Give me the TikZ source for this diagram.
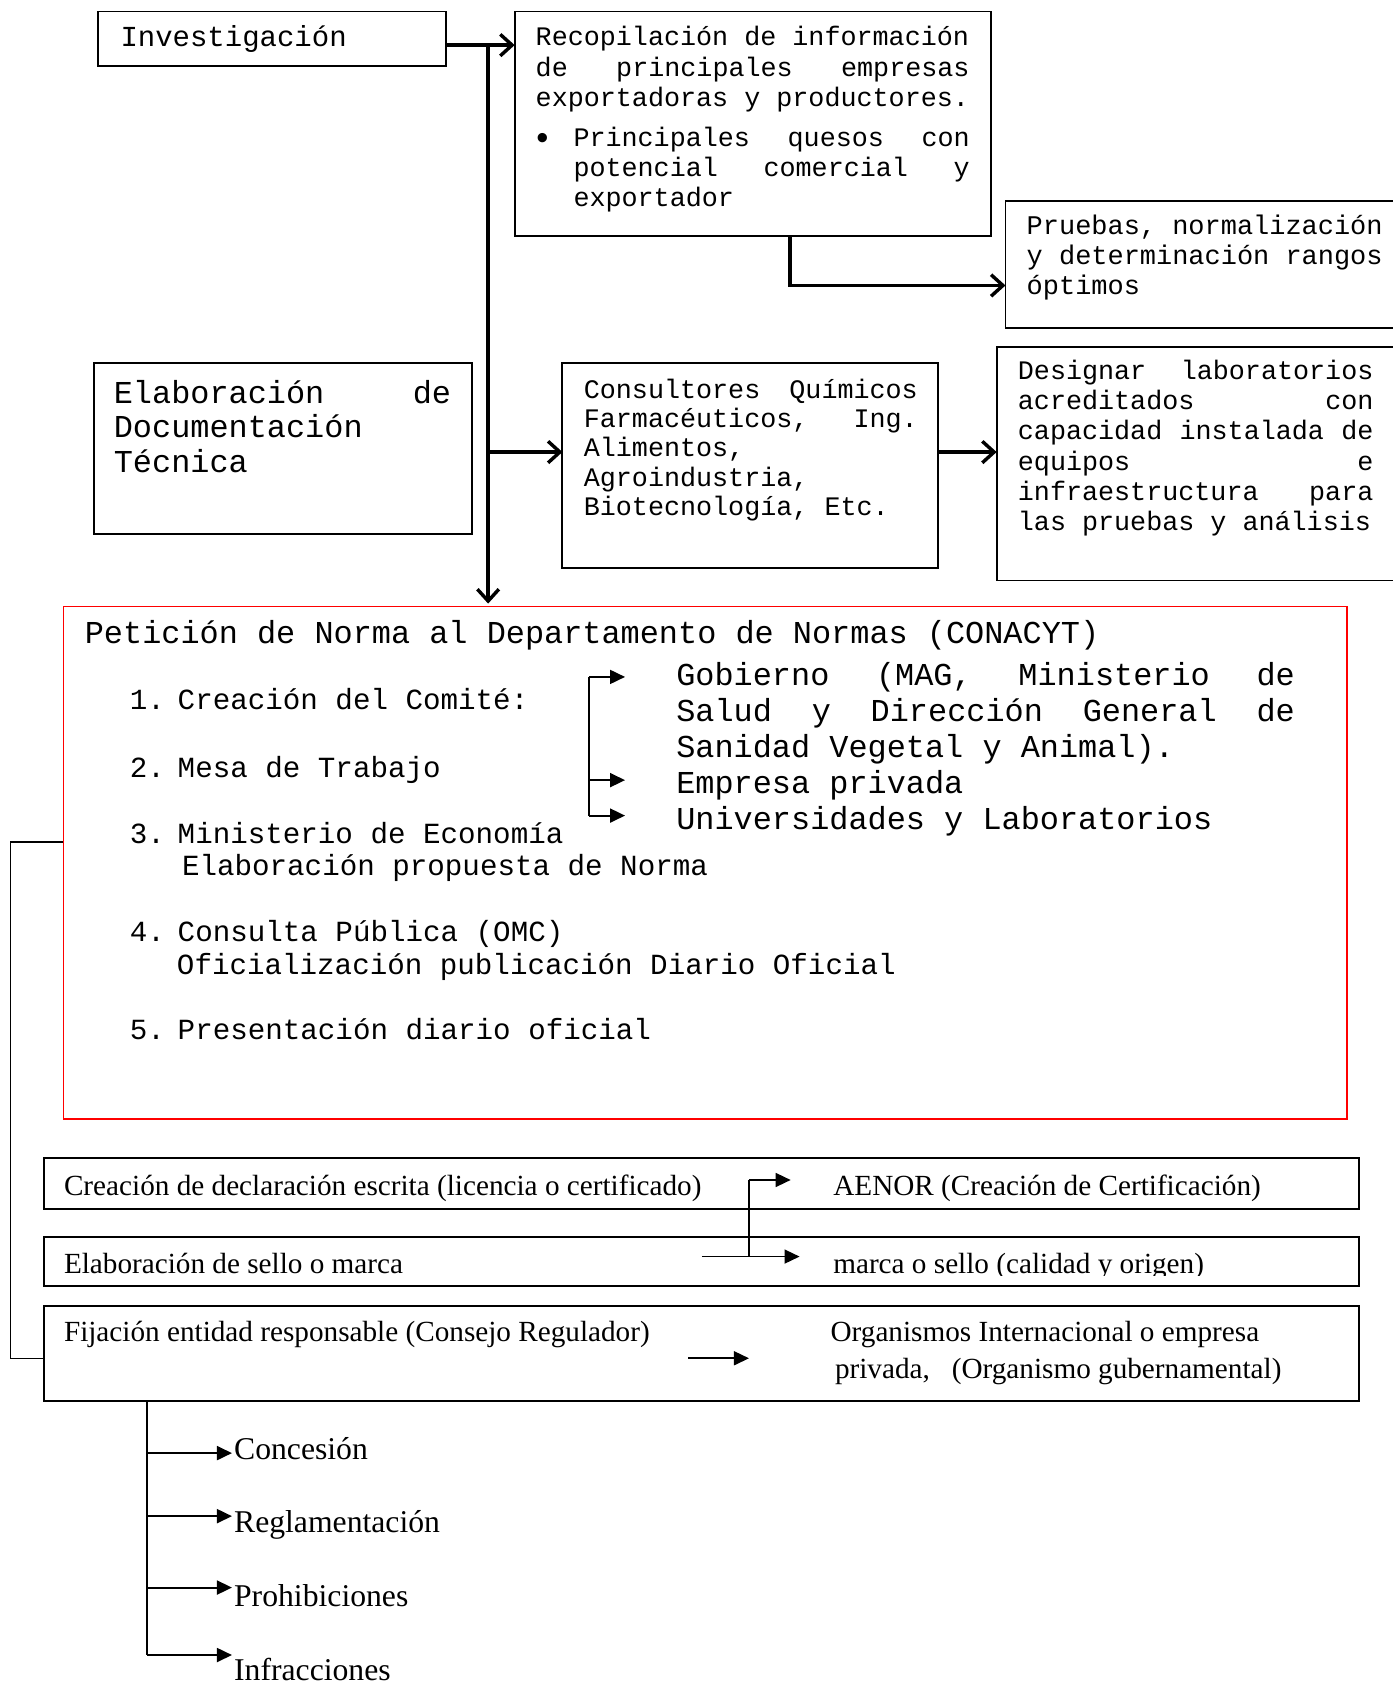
\documentclass[tikz,border=0pt]{standalone}
\usepackage{fontspec}
\newfontfamily\monof{Liberation Mono}
\newfontfamily\serff{Liberation Serif}
\usetikzlibrary{arrows.meta}
\begin{document}
\frenchspacing
\begin{tikzpicture}[x=1pt,y=-1pt,
  box/.style={draw,line width=1.8pt,inner sep=0pt,outer sep=0pt,anchor=north west},
  txt/.style={inner sep=0pt,outer sep=0pt,anchor=base west,align=left},
  flow/.style={line width=3.2pt,-{Straight Barb[length=11pt,width=20pt]}},
  tri/.style={line width=1.9pt,-{Triangle[length=14pt,width=13pt]}},
  plain/.style={line width=1.9pt},
  thinl/.style={line width=1.3pt}]
\fill[white] (0,0) rectangle (1297,1568);
\clip (0,0) rectangle (1297,1568);

% ---------- upper boxes (multi-line texts are anchored at the baseline of their last line) ----------
\node[box,minimum width=324pt,minimum height=50.7pt] (inv) at (91.4,10.7) {};
\node[txt,font={\monof\fontsize{27pt}{30pt}\selectfont}] (invt) at (112.2,43.5) {Investigación};

\node[box,minimum width=443.7pt,minimum height=208.7pt] (rec) at (479.2,10.7) {};
\node[txt,font={\monof\fontsize{24.9pt}{28pt}\selectfont}] (rect) at (498.8,98.8)
  {Recopilación de información\\
   \hbox to 404pt{de\hfill principales\hfill empresas}\\
   exportadoras y productores.};
\node[txt,font={\monof\fontsize{32pt}{32pt}\selectfont}] (bul) at (495.5,139.6) {\textbullet};
\node[txt,font={\monof\fontsize{24.9pt}{28pt}\selectfont}] (itm) at (534,192.6)
  {\hbox to 369pt{Principales\hfill quesos\hfill con}\\
   \hbox to 369pt{potencial\hfill comercial\hfill y}\\
   exportador};

\node[box,minimum width=380pt,minimum height=117.7pt] (pru) at (936.2,187.3) {};
\node[txt,font={\monof\fontsize{25.1pt}{27.9pt}\selectfont}] (prut) at (956,274.1)
  {Pruebas, normalización\\ y determinación rangos\\ óptimos};

\node[box,minimum width=352.5pt,minimum height=159.4pt] (ela) at (87.3,338.2) {};
\node[txt,font={\monof\fontsize{29.7pt}{32.1pt}\selectfont}] (elat) at (106,439.5)
  {\hbox to 314pt{Elaboración\hfill de}\\ Documentación\\ Técnica};

\node[box,minimum width=349.3pt,minimum height=190.5pt] (con) at (523.7,338.2) {};
\node[txt,font={\monof\fontsize{24.9pt}{27.2pt}\selectfont}] (cont) at (543.6,479.8)
  {\hbox to 311pt{Consultores\hfill Químicos}\\
   \hbox to 311pt{Farmacéuticos,\hfill Ing.}\\
   Alimentos,\\ Agroindustria,\\ Biotecnología, Etc.};

\node[box,minimum width=380pt,minimum height=217.7pt] (des) at (928,322.8) {};
\node[txt,font={\monof\fontsize{24.9pt}{28.2pt}\selectfont}] (dest) at (947.8,494.2)
  {\hbox to 331pt{Designar\hfill laboratorios}\\
   \hbox to 331pt{acreditados\hfill con}\\
   \hbox to 331pt{capacidad\hfill instalada\hfill de}\\
   \hbox to 331pt{equipos\hfill e}\\
   \hbox to 331pt{infraestructura\hfill para}\\
   las pruebas y análisis};

% ---------- upper connectors ----------
\coordinate (j1) at (454.5,42);
\coordinate (j3) at (454.5,420.9);
\coordinate (j2) at (735.5,265.8);
\draw[line width=3.2pt] (inv.east |- j1) -- (j1);
\draw[flow] (j1) -- (rec.west |- j1);
\draw[flow] (j1) -- (j1 |- 0,562);
\draw[flow] (j3) -- (con.west |- j3);
\draw[flow] (rec.south -| j2) -- (j2) -- (pru.west |- j2);
\draw[flow] (con.east |- j3) -- (des.west |- j3);

% ---------- red box ----------
\node[box,draw=red,line width=1.6pt,minimum width=1195.4pt,minimum height=477.2pt] (red) at (59,564.8) {};
\node[txt,font={\monof\fontsize{29.7pt}{33pt}\selectfont}] (pet) at (79,598.8)
  {Petición de Norma al Departamento de Normas (CONACYT)};
\begin{scope}[every node/.append style={txt,font={\monof\fontsize{27.2pt}{30pt}\selectfont}}]
\node (k1) at (121,660.6) {1.};
\node (i1) at (165.5,660.6) {Creación del Comité:};
\node (k2) at (121,723.8) {2.};
\node (i2) at (165.5,723.8) {Mesa de Trabajo};
\node (k3) at (121,785) {3.};
\node (i3) at (165.5,785) {Ministerio de Economía};
\node (i3b) at (169.5,815) {Elaboración propuesta de Norma};
\node (k4) at (121,876.7) {4.};
\node (i4) at (165.5,876.7) {Consulta Pública (OMC)};
\node (i4b) at (164.8,907.6) {Oficialización publicación Diario Oficial};
\node (k5) at (121,967.9) {5.};
\node (i5) at (165.5,967.9) {Presentación diario oficial};
\end{scope}
\node[txt,font={\monof\fontsize{29.7pt}{33.5pt}\selectfont}] (gob) at (629.7,772.4)
  {\hbox to 576pt{Gobierno\hfill (MAG,\hfill Ministerio\hfill de}\\
   \hbox to 576pt{Salud\hfill y\hfill Dirección\hfill General\hfill de}\\
   Sanidad Vegetal y Animal).\\
   Empresa privada\\
   Universidades y Laboratorios};
\coordinate (bk1) at (548.4,630.3);
\coordinate (bk2) at (548.4,726.4);
\coordinate (bk3) at (548.4,759.4);
\coordinate (g1) at (582,630.3);
\coordinate (g2) at (582,726.4);
\coordinate (g3) at (582,759.4);
\draw[plain] (bk1) -- (bk3);
\draw[tri] (bk1) -- (g1);
\draw[tri] (bk2) -- (g2);
\draw[tri] (bk3) -- (g3);

% ---------- lower boxes ----------
\node[box,minimum width=1224.2pt,minimum height=47.2pt] (bxa) at (41.4,1078.5) {};
\node[box,minimum width=1224.2pt,minimum height=45.6pt] (bxb) at (41.4,1151.5) {};
\node[box,minimum width=1224.2pt,minimum height=88.8pt] (bxc) at (41.4,1215.7) {};
\begin{scope}[every node/.append style={txt,font={\serff\fontsize{27.2pt}{32pt}\selectfont}}]
\node (ta1) at (59.6,1112.7) {Creación de declaración escrita (licencia o certificado)};
\node (ta2) at (775.9,1112.7) {AENOR (Creación de Certificación)};
\begin{scope}
\clip (41.4,1151.5) rectangle (1266,1187.5);
\node (tb1) at (59.6,1185.6) {Elaboración de sello o marca};
\node (tb2) at (775.9,1185.6) {marca o sello (calidad y origen)};
\end{scope}
\node (tc1) at (59.6,1249.2) {Fijación entidad responsable (Consejo Regulador)};
\node (tc2) at (773.4,1249.2) {Organismos Internacional o empresa};
\node (tc3) at (777.5,1283.3) {privada,\ \ \ (Organismo gubernamental)};
\end{scope}

\coordinate (v1) at (697.3,1098.7);
\coordinate (v1t) at (736.2,1098.7);
\coordinate (v2) at (697.3,1170);
\coordinate (l0) at (653.5,1170);
\coordinate (l1) at (744.5,1170);
\draw[line width=1.5pt] (v2) -- (v1);
\draw[tri,line width=1.6pt] (v1) -- (v1t);
\draw[tri,line width=1.6pt] (l0) -- (l1);
\coordinate (f0) at (641,1264.7);
\coordinate (f1) at (697.4,1264.7);
\draw[tri,line width=1.6pt] (f0) -- (f1);

% left connector
\coordinate (lc1) at (10,784);
\coordinate (lc2) at (10,1264.7);
\draw[thinl] (red.west |- lc1) -- (lc1) -- (lc2) -- (bxc.west |- lc2);

% ---------- tree ----------
\begin{scope}[every node/.append style={txt,font={\serff\fontsize{29.5pt}{32pt}\selectfont}}]
\node (n1) at (218,1358.5) {Concesión};
\node (n2) at (218,1427.2) {Reglamentación};
\node (n3) at (218,1496.2) {Prohibiciones};
\node (n4) at (218,1565) {Infracciones};
\end{scope}
\coordinate (t1) at (136.5,1353);
\coordinate (t2) at (136.5,1411.7);
\coordinate (t3) at (136.5,1478.2);
\coordinate (t4) at (136.5,1541);
\draw[plain] (bxc.south -| t1) -- (t4);
\draw[tri] (t1) -- ([xshift=-2pt]n1.west |- t1);
\draw[tri] (t2) -- ([xshift=-2pt]n2.west |- t2);
\draw[tri] (t3) -- ([xshift=-2pt]n3.west |- t3);
\draw[tri] (t4) -- ([xshift=-2pt]n4.west |- t4);
\end{tikzpicture}
\end{document}
